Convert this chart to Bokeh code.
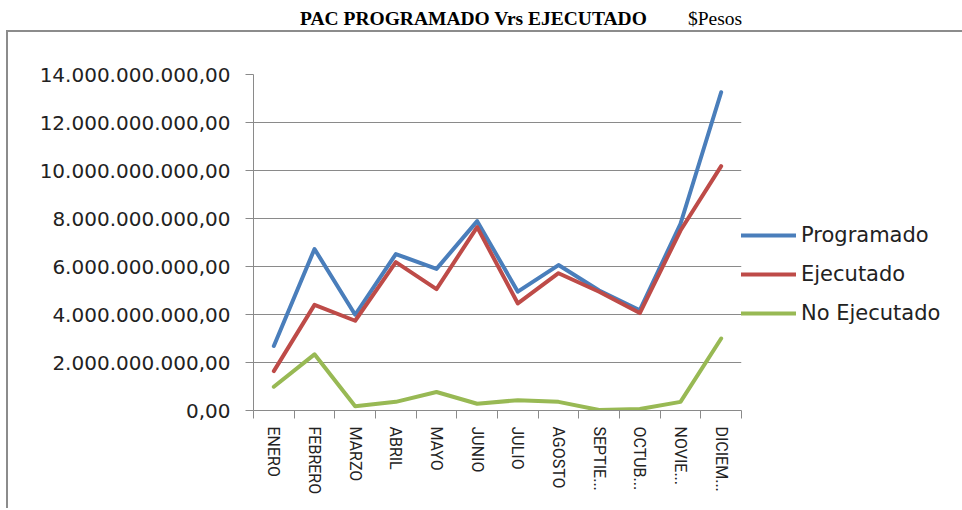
from bokeh.plotting import figure
from bokeh.models import (ColumnDataSource, FixedTicker, Legend, LegendItem, Div, Range1d)
from bokeh.layouts import column
from bokeh.embed import file_html
from bokeh.resources import INLINE

months = ["ENERO", "FEBRERO", "MARZO", "ABRIL", "MAYO", "JUNIO", "JULIO",
          "AGOSTO", "SEPTIE...", "OCTUB...", "NOVIE...", "DICIEM..."]
programado = [2.69e9, 6.73e9, 3.99e9, 6.52e9, 5.90e9, 7.89e9, 4.95e9,
              6.06e9, 5.00e9, 4.18e9, 7.78e9, 13.26e9]
ejecutado = [1.64e9, 4.40e9, 3.74e9, 6.18e9, 5.06e9, 7.64e9, 4.46e9,
             5.72e9, 4.95e9, 4.06e9, 7.50e9, 10.18e9]
no_ejecutado = [0.99e9, 2.34e9, 0.18e9, 0.36e9, 0.77e9, 0.28e9, 0.43e9,
                0.36e9, 0.02e9, 0.06e9, 0.36e9, 3.00e9]
yticks = [0, 2e9, 4e9, 6e9, 8e9, 10e9, 12e9, 14e9]
ytick_labels = ["0,00", "2.000.000.000,00", "4.000.000.000,00", "6.000.000.000,00",
                "8.000.000.000,00", "10.000.000.000,00", "12.000.000.000,00",
                "14.000.000.000,00"]
series_names = ["Programado", "Ejecutado", "No Ejecutado"]
colors = ["#4A7EBB", "#BE4B48", "#98B954"]
title_main = "PAC PROGRAMADO Vrs EJECUTADO"
title_unit = "$Pesos"

xc = [i + 0.5 for i in range(len(months))]
src = ColumnDataSource(dict(x=xc, p=programado, e=ejecutado, n=no_ejecutado))

p = figure(frame_width=486, frame_height=334, output_backend="svg", toolbar_location=None,
           x_range=Range1d(0, 12), y_range=Range1d(0, 14e9),
           min_border_left=245, min_border_right=205, min_border_top=42,
           min_border_bottom=100)
p.margin = (0, 0, 0, 6)
p.outline_line_color = None
p.background_fill_color = "white"
p.border_fill_color = "white"
p.styles = {"border-left": "2px solid #8c8c8c", "border-top": "2px solid #8c8c8c"}

grid_col = "#8a8a8a"
# y axis
p.yaxis.ticker = FixedTicker(ticks=yticks)
p.yaxis.major_label_overrides = {float(t): l for t, l in zip(yticks, ytick_labels)}
p.yaxis.major_label_text_font = "DejaVu Sans"
p.yaxis.major_label_text_font_size = "20px"
p.yaxis.major_label_text_color = "#222222"
p.yaxis.axis_line_color = grid_col
p.yaxis.major_tick_line_color = grid_col
p.yaxis.major_tick_out = 8
p.yaxis.major_tick_in = 0
p.yaxis.minor_tick_line_color = None
p.yaxis.major_label_standoff = 15

# x axis: labels at centers, ticks at boundaries
p.xaxis.ticker = FixedTicker(ticks=xc, minor_ticks=list(range(13)))
p.xaxis.major_label_overrides = {float(x): m for x, m in zip(xc, months)}
p.xaxis.major_label_orientation = "vertical"
p.xaxis.major_label_text_font = "Roboto"
p.xaxis.major_label_text_font_size = "16px"
p.xaxis.major_label_text_color = "#222222"
p.xaxis.axis_line_color = grid_col
p.xaxis.major_tick_line_color = None
p.xaxis.minor_tick_line_color = grid_col
p.xaxis.minor_tick_out = 8
p.xaxis.minor_tick_in = 0
p.xaxis.major_label_standoff = 8

p.xgrid.grid_line_color = None
p.ygrid.grid_line_color = grid_col
p.ygrid.ticker = FixedTicker(ticks=yticks)

renderers = []
for col, c in zip(["p", "e", "n"], colors):
    r = p.line("x", col, source=src, line_color=c, line_width=4,
               line_cap="round", line_join="round")
    renderers.append(r)

legend = Legend(items=[LegendItem(label=n, renderers=[r]) for n, r in zip(series_names, renderers)],
                location=(0, 85), orientation="vertical",
                border_line_color=None, background_fill_alpha=0,
                padding=0, margin=0, spacing=15, glyph_width=55, glyph_height=20,
                label_height=20, label_standoff=5,
                label_text_font="DejaVu Sans", label_text_font_size="21px",
                label_text_color="#222222")
p.add_layout(legend, "right")

title_html = (
    '<div style="position:relative;width:956px;height:30px;font-family:\'Liberation Serif\';'
    'font-size:19.5px;color:#000;">'
    '<span style="position:absolute;left:300px;top:5px;font-weight:bold;white-space:nowrap;">'
    + title_main + '</span>'
    '<span style="position:absolute;left:688px;top:5px;white-space:nowrap;">'
    + title_unit + '</span></div>'
)
div = Div(text=title_html, width=956, height=30, margin=(0, 0, 0, 0))

layout = column(div, p, spacing=0)
open("out.html", "w").write(file_html(layout, INLINE))
